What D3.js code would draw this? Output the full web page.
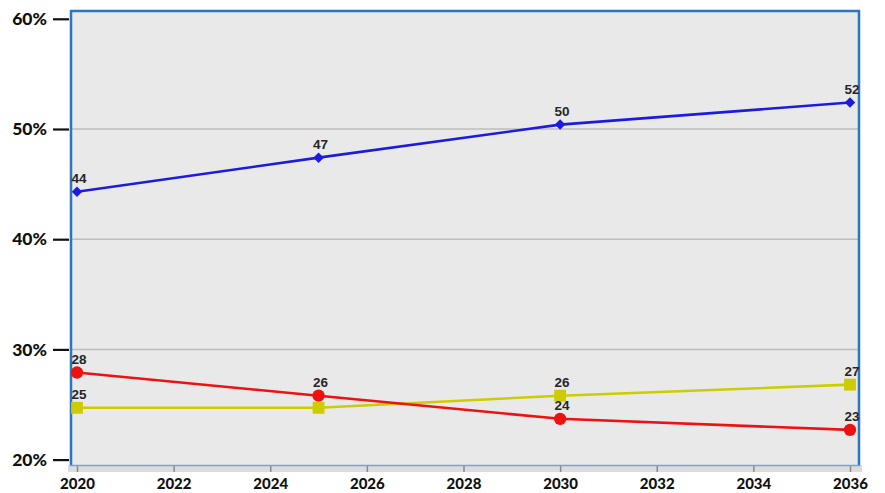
<!DOCTYPE html>
<html><head><meta charset="utf-8">
<script src="https://cdn.jsdelivr.net/npm/d3@7"></script>
<style>body{margin:0;background:#fff}svg{display:block}</style>
</head><body>
<svg id="c" width="885" height="493"></svg>
<script>
const years = [2020, 2025, 2030, 2036];
const blueValues = [44.3, 47.4, 50.4, 52.4];
const blueLabels = ["44", "47", "50", "52"];
const redValues = [27.9, 25.8, 23.7, 22.7];
const redLabels = ["28", "26", "24", "23"];
const yellowValues = [24.7, 24.7, 25.8, 26.8];
const yellowLabels = ["25", null, "26", "27"];
const yTicks = [20, 30, 40, 50, 60];
const xTicks = [2020, 2022, 2024, 2026, 2028, 2030, 2032, 2034, 2036];

const svg = d3.select("#c");
const x = d3.scaleLinear().domain([2020, 2036]).range([77, 850]);
const y = d3.scaleLinear().domain([20, 60]).range([459.6, 18.8]);

svg.append("rect").attr("x", 70).attr("y", 10).attr("width", 790).attr("height", 456)
  .attr("fill", "#e9e9e9");
svg.append("rect").attr("x", 68).attr("y", 465).attr("width", 794).attr("height", 7)
  .attr("fill", "#dcdcdc");

svg.append("g").selectAll("line").data([30, 40, 50]).join("line")
  .attr("x1", 71).attr("x2", 859)
  .attr("y1", d => y(d)).attr("y2", d => y(d))
  .attr("stroke", "#bdbdbd").attr("stroke-width", 1.5);

const xa = svg.append("g").attr("transform", "translate(0,466)")
  .call(d3.axisBottom(x).tickValues(xTicks).tickFormat(d3.format("d")).tickSize(6).tickPadding(6));
xa.select(".domain").remove();
xa.selectAll(".tick line").attr("stroke", "#8a8a8a").attr("stroke-width", 1.5);
xa.selectAll(".tick text").attr("font-family", "Lato, sans-serif").attr("font-weight", "900")
  .attr("font-size", 15).attr("fill", "#111");

svg.append("path")
  .attr("d", "M71,466 L71,11 L859,11 L859,466")
  .attr("fill", "none").attr("stroke", "#2b76bd").attr("stroke-width", 2.5);
svg.append("line").attr("x1", 70).attr("x2", 860).attr("y1", 465.5).attr("y2", 465.5)
  .attr("stroke", "#6ea6d6").attr("stroke-width", 1.5);

const ya = svg.append("g").attr("transform", "translate(69,0)")
  .call(d3.axisLeft(y).tickValues(yTicks).tickFormat(d => d + "%").tickSize(16).tickPadding(6));
ya.select(".domain").remove();
ya.selectAll(".tick line").attr("stroke", "#111").attr("stroke-width", 2.2);
ya.selectAll(".tick text").attr("font-family", "Lato, sans-serif").attr("font-weight", "900")
  .attr("font-size", 17.5).attr("fill", "#111");

const series = [
  {values: blueValues, labels: blueLabels, color: "#1c1ce0", shape: d3.symbolSquare, size: 55, rot: 45},
  {values: yellowValues, labels: yellowLabels, color: "#cccc00", shape: d3.symbolSquare, size: 140, rot: 0},
  {values: redValues, labels: redLabels, color: "#ee1111", shape: d3.symbolCircle, size: 120, rot: 0}
];
const line = d3.line().x(d => x(d.year)).y(d => y(d.v));
series.forEach(s => {
  const pts = years.map((yr, i) => ({year: yr, v: s.values[i], label: s.labels[i]}));
  svg.append("path").datum(pts).attr("d", line).attr("fill", "none")
    .attr("stroke", s.color).attr("stroke-width", 2.6);
  svg.append("g").selectAll("path").data(pts).join("path")
    .attr("transform", d => `translate(${x(d.year)},${y(d.v)}) rotate(${s.rot})`)
    .attr("d", d3.symbol().type(s.shape).size(s.size)).attr("fill", s.color);
  svg.append("g").selectAll("text").data(pts.filter(d => d.label)).join("text")
    .attr("x", d => x(d.year) + 2).attr("y", d => y(d.v) - 9)
    .attr("text-anchor", "middle").attr("font-family", "Liberation Sans, Arial, sans-serif")
    .attr("font-weight", "bold").attr("font-size", 13.5).attr("fill", "#262626")
    .text(d => d.label);
});
</script>
</body></html>
